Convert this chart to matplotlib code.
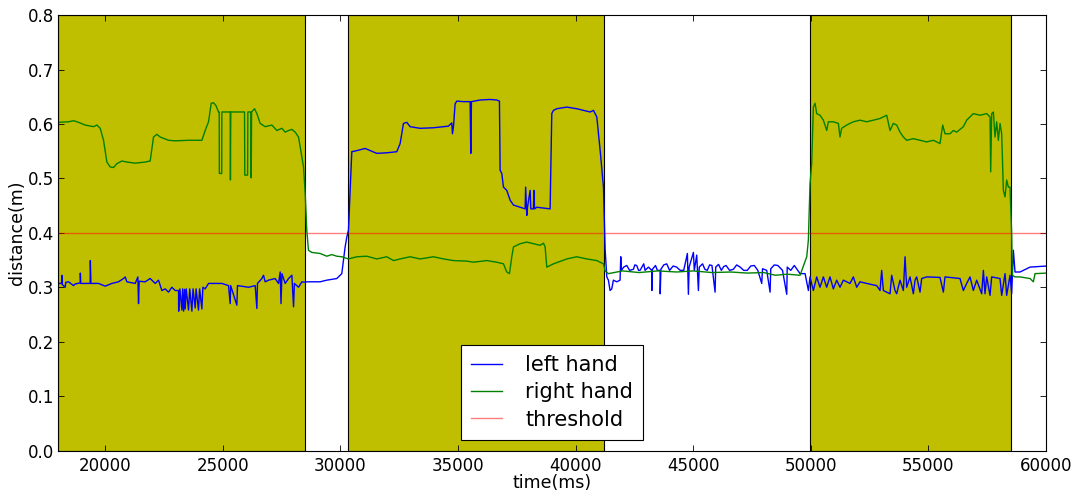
import matplotlib

matplotlib.use("Agg")
import matplotlib.pyplot as plt
import numpy as np

# (time in ms, distance in m)
left_hand = [
    (18000, .307), (18150, .307), (18164, .322), (18180, .305), (18306, .300), (18330, .309),
    (18448, .310), (18660, .303), (18731, .306), (18944, .308), (18950, .326), (18970, .307),
    (19369, .307), (19375, .349), (19400, .307), (19723, .307), (20007, .302), (20290, .307),
    (20573, .310), (20786, .316), (20857, .319), (20928, .310), (21282, .307), (21395, .319),
    (21424, .270), (21450, .311), (21707, .310), (21919, .316), (21990, .313), (22132, .307),
    (22274, .313), (22415, .294), (22557, .297), (22699, .291), (22841, .300), (22982, .294),
    (23124, .294), (23130, .256), (23180, .297), (23266, .258), (23300, .297), (23340, .256),
    (23380, .296), (23407, .260), (23450, .297), (23549, .258), (23600, .297), (23691, .256),
    (23740, .297), (23832, .262), (23870, .297), (23974, .258), (24020, .297), (24116, .260),
    (24160, .300), (24257, .297), (24399, .307), (24966, .307), (25249, .303), (25320, .270),
    (25340, .303), (25604, .267), (25630, .303), (26100, .300), (26383, .303), (26454, .261),
    (26480, .307), (26666, .316), (26737, .322), (26808, .310), (26950, .313), (27233, .316),
    (27375, .307), (27446, .328), (27480, .270), (27520, .325), (27658, .307), (27800, .316),
    (27942, .322), (28013, .264), (28050, .307), (28225, .300), (28367, .310), (28509, .309),
    (28576, .310), (29143, .310), (29427, .313), (29852, .316), (30064, .325), (30206, .374),
    (30277, .392), (30348, .405), (30419, .478), (30489, .549), (30702, .551), (31056, .555),
    (31552, .546), (31977, .547), (32402, .549), (32544, .564), (32686, .601), (32827, .603),
    (32969, .595), (33394, .592), (33961, .593), (34599, .596), (34740, .602), (34769, .582),
    (34811, .595), (34882, .637), (34953, .642), (35236, .641), (35520, .641), (35548, .546),
    (35576, .641), (35945, .644), (36370, .645), (36653, .644), (36766, .642), (36795, .515),
    (36866, .509), (36937, .484), (37078, .478), (37220, .460), (37362, .451), (37645, .447),
    (37858, .444), (37880, .484), (37929, .432), (37960, .447), (38070, .478), (38100, .444),
    (38212, .444), (38230, .478), (38260, .444), (38354, .447), (38921, .444), (38949, .515),
    (38991, .619), (39062, .625), (39204, .628), (39629, .631), (40054, .628), (40337, .625),
    (40621, .622), (40763, .625), (40904, .613), (41046, .552), (41188, .484), (41259, .370),
    (41330, .319), (41398, .313), (41469, .294), (41540, .297), (41611, .313), (41753, .310),
    (41894, .313), (41923, .356), (41950, .331), (42050, .337), (42178, .340), (42300, .331),
    (42461, .333), (42520, .341), (42600, .340), (42680, .331), (42744, .331), (42900, .343),
    (42957, .331), (43100, .337), (43240, .331), (43245, .294), (43270, .333), (43400, .340),
    (43480, .331), (43595, .331), (43600, .288), (43630, .333), (43750, .341), (43878, .343),
    (44000, .331), (44150, .339), (44300, .337), (44450, .331), (44600, .331), (44756, .362),
    (44799, .287), (44830, .337), (45012, .364), (45050, .331), (45153, .359), (45224, .294),
    (45260, .337), (45400, .343), (45500, .333), (45600, .331), (45700, .341), (45800, .340),
    (45933, .291), (45960, .337), (46080, .342), (46200, .331), (46300, .338), (46400, .340),
    (46550, .331), (46712, .333), (46850, .341), (47000, .337), (47150, .331), (47300, .331),
    (47450, .339), (47600, .340), (47750, .331), (47916, .307), (47950, .334), (48129, .331),
    (48271, .291), (48300, .334), (48450, .341), (48600, .340), (48800, .331), (48979, .287),
    (49000, .337), (49150, .331), (49300, .340), (49450, .331), (49546, .325), (49759, .325),
    (49900, .294), (49969, .319), (50111, .294), (50253, .319), (50394, .300), (50536, .319),
    (50678, .300), (50819, .319), (50961, .297), (51103, .313), (51244, .300), (51386, .313),
    (51670, .307), (51811, .319), (51953, .300), (52095, .310), (52378, .307), (52803, .303),
    (52945, .294), (53016, .331), (53086, .294), (53370, .288), (53441, .322), (53582, .294),
    (53653, .288), (53795, .313), (53937, .294), (54008, .356), (54078, .300), (54220, .319),
    (54362, .288), (54433, .313), (54504, .319), (54645, .291), (54716, .316), (54929, .319),
    (55495, .318), (55637, .291), (55708, .319), (56345, .316), (56487, .294), (56629, .307),
    (56771, .319), (56912, .294), (57054, .313), (57267, .288), (57338, .331), (57408, .288),
    (57479, .319), (57621, .285), (57692, .319), (58046, .316), (58117, .285), (58259, .325),
    (58329, .285), (58471, .322), (58542, .288), (58613, .368), (58684, .328), (58896, .328),
    (59038, .331), (59321, .337), (60030, .339),
]

right_hand = [
    (18000, .603), (18448, .604), (18660, .606), (18873, .603), (19156, .598), (19511, .595),
    (19652, .598), (19794, .592), (19936, .570), (20077, .530), (20219, .521), (20361, .520),
    (20502, .527), (20715, .532), (20928, .530), (21282, .528), (21707, .530), (21919, .532),
    (22061, .576), (22203, .581), (22344, .576), (22699, .570), (22982, .569), (23549, .570),
    (24116, .570), (24257, .588), (24399, .604), (24512, .638), (24612, .639), (24711, .634),
    (24824, .622), (24853, .622), (24860, .509), (24960, .509), (24966, .622), (25320, .622),
    (25330, .497), (25345, .622), (25930, .622), (25940, .506), (26060, .506), (26071, .622),
    (26200, .622), (26213, .501), (26230, .622), (26355, .628), (26454, .619), (26595, .601),
    (26808, .595), (27092, .598), (27304, .588), (27517, .592), (27658, .585), (27800, .588),
    (27942, .590), (28083, .585), (28225, .576), (28367, .539), (28438, .521), (28509, .472),
    (28576, .405), (28647, .368), (28789, .364), (29143, .362), (29427, .357), (29639, .360),
    (29852, .357), (30064, .356), (30348, .352), (30702, .356), (31127, .357), (31552, .352),
    (31977, .356), (32261, .349), (32544, .352), (32969, .356), (33394, .352), (33961, .356),
    (34386, .352), (34811, .349), (35378, .348), (35661, .346), (36228, .349), (36653, .346),
    (36937, .343), (37078, .328), (37192, .325), (37291, .356), (37362, .374), (37645, .380),
    (37929, .383), (38212, .380), (38495, .377), (38637, .381), (38708, .374), (38779, .337),
    (39062, .343), (39629, .352), (40054, .356), (40479, .352), (40904, .349), (41188, .343),
    (41259, .330), (41400, .325), (42000, .330), (42700, .327), (43500, .330), (44300, .328),
    (45000, .330), (45800, .327), (46600, .328), (47300, .326), (48000, .327), (48500, .322),
    (49000, .324), (49546, .322), (49829, .356), (49898, .386), (49969, .490), (50040, .527),
    (50111, .631), (50182, .638), (50253, .619), (50394, .616), (50536, .607), (50678, .588),
    (50748, .604), (50961, .604), (51174, .601), (51244, .576), (51315, .592), (51528, .598),
    (51811, .604), (52095, .607), (52378, .604), (52661, .607), (52945, .610), (53228, .616),
    (53370, .588), (53512, .601), (53653, .598), (53795, .585), (53937, .576), (54078, .570),
    (54362, .573), (54645, .570), (54929, .567), (55212, .570), (55495, .564), (55609, .598),
    (55708, .582), (55920, .582), (56062, .588), (56204, .585), (56487, .595), (56629, .607),
    (56912, .619), (57196, .616), (57479, .619), (57621, .613), (57649, .512), (57692, .619),
    (57763, .622), (57833, .576), (57904, .604), (57975, .570), (58046, .601), (58117, .582),
    (58188, .478), (58259, .466), (58329, .497), (58400, .484), (58471, .484), (58542, .398),
    (58570, .322), (58684, .319), (58896, .319), (59321, .316), (59463, .310), (59534, .325),
    (60030, .326),
]

# intervals where a hand is raised
gesture_spans = [(18000, 28520), (30320, 41230), (49950, 58530)]
threshold = 0.4

x_ticks = [20000, 25000, 30000, 35000, 40000, 45000, 50000, 55000, 60000]
y_ticks = [0.0, 0.1, 0.2, 0.3, 0.4, 0.5, 0.6, 0.7, 0.8]

left_t, left_d = np.array(left_hand).T
right_t, right_d = np.array(right_hand).T

fig = plt.figure(figsize=(10.78, 4.92), dpi=100)
ax = fig.add_axes([0.0538, 0.0843, 0.9165, 0.885])

for start, end in gesture_spans:
    ax.axvspan(start, end, facecolor=(0.75, 0.75, 0.0), edgecolor="black",
               linewidth=0.8, zorder=1)

ax.plot(left_t, left_d, color="#0000ff", linewidth=1.0, label="left hand", zorder=3)
ax.plot(right_t, right_d, color="#008000", linewidth=1.0, label="right hand", zorder=3)
ax.plot([18000, 60000], [threshold, threshold], color="red", alpha=0.5,
        linewidth=1.0, label="threshold", zorder=2)

ax.set_xlim(18000, 60000)
ax.set_ylim(0.0, 0.8)
ax.set_xticks(x_ticks)
ax.set_yticks(y_ticks)
ax.set_yticklabels([f"{v:.1f}" for v in y_ticks])
ax.tick_params(axis="x", pad=5)
ax.tick_params(axis="y", pad=3)
ax.tick_params(direction="in", top=True, right=True, labelsize=12, length=4,
               width=0.6)
for spine in ax.spines.values():
    spine.set_linewidth(0.8)
    spine.set_zorder(4)

ax.set_xlabel("time(ms)", fontsize=12.5, labelpad=-1)
ax.set_ylabel("distance(m)", fontsize=12.5, labelpad=1)

leg = ax.legend(loc="lower center", fontsize=15, handlelength=1.5,
                handletextpad=1.1, labelspacing=0.35, borderpad=0.5,
                fancybox=False, framealpha=1.0, borderaxespad=0.5)
leg.get_frame().set_edgecolor("black")
leg.get_frame().set_linewidth(0.8)
leg.set_zorder(5)

fig.savefig("out.png", dpi=100)
